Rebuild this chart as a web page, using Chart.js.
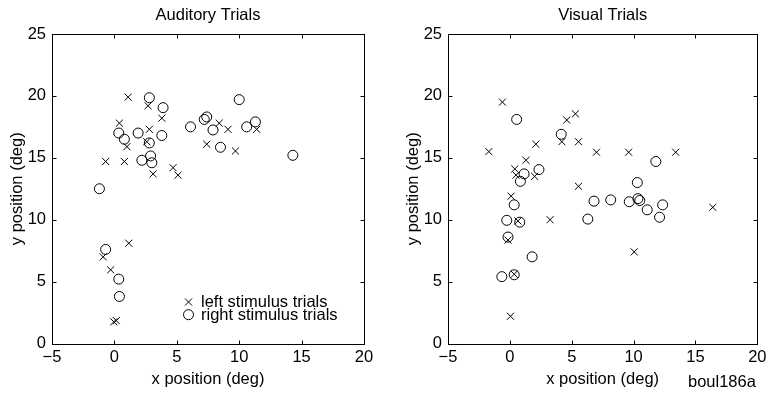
<!DOCTYPE html>
<html><head><meta charset="utf-8">
<script src="https://cdn.jsdelivr.net/npm/chart.js@4/dist/chart.umd.min.js"></script>
<style>
html,body{margin:0;padding:0;background:#fff;}
#wrap{position:relative;width:771px;height:393px;overflow:hidden;background:#fff}
canvas{position:absolute;top:0}
</style></head><body>
<div id="wrap">
<canvas id="c1" width="385" height="393" style="left:0"></canvas>
<canvas id="c2" width="375" height="393" style="left:396px"></canvas>
</div>
<script>
// ---- data ----
const xTickValues = [-5, 0, 5, 10, 15, 20];
const xTickLabels = ['\u22125', '0', '5', '10', '15', '20'];
const yTickValues = [0, 5, 10, 15, 20, 25];
const yTickLabels = ['0', '5', '10', '15', '20', '25'];

const audLeftX = [1.1, 2.7, 3.8, 0.4, 2.8, 2.6, 1.0, -0.7, 0.8, 3.1, 4.7, 5.1, 7.4, 8.4, 9.1, 9.7, 11.4, 1.15, -0.9, -0.3, -0.05, 0.15];
const audLeftY = [19.9, 19.2, 18.2, 17.8, 17.3, 16.3, 15.9, 14.7, 14.7, 13.7, 14.2, 13.6, 16.1, 17.8, 17.3, 15.55, 17.3, 8.1, 7.0, 5.95, 1.75, 1.85];
const audRightX = [2.8, 3.9, 0.35, 0.8, 1.9, 2.8, 3.8, 2.2, 2.9, 3.0, 6.1, 7.2, 7.4, 10.0, 7.9, 8.5, 10.6, 11.3, 14.3, -1.2, -0.7, 0.35, 0.4];
const audRightY = [19.85, 19.05, 17.0, 16.5, 17.0, 16.2, 16.8, 14.8, 15.15, 14.6, 17.5, 18.1, 18.3, 19.7, 17.25, 15.85, 17.5, 17.9, 15.2, 12.5, 7.6, 5.2, 3.8];

const visLeftX = [-0.6, 4.6, 5.3, 4.2, 5.55, 2.1, -1.7, 7.0, 1.3, 0.4, 0.5, 2.0, 5.55, 0.1, 9.6, 13.4, 0.65, -0.15, 0.35, 3.25, 0.05, 16.4, 10.05];
const visLeftY = [19.5, 18.05, 18.55, 16.3, 16.3, 16.1, 15.5, 15.45, 14.8, 14.1, 13.6, 13.5, 12.7, 11.9, 15.45, 15.45, 9.9, 8.35, 5.6, 10.0, 2.2, 11.0, 7.4];
const visRightX = [0.55, 4.15, 1.15, 2.35, 0.85, 11.8, 10.3, 0.35, -0.25, 0.8, -0.15, 1.8, -0.65, 0.35, 6.8, 6.3, 8.15, 9.65, 10.35, 10.5, 11.1, 12.35, 12.1];
const visRightY = [18.1, 16.9, 13.7, 14.05, 13.1, 14.7, 13.0, 11.2, 9.95, 9.8, 8.6, 7.0, 5.4, 5.55, 11.5, 10.05, 11.6, 11.45, 11.7, 11.55, 10.8, 11.2, 10.2];

const legendLabels = ['left stimulus trials', 'right stimulus trials'];
const titles = ['Auditory Trials', 'Visual Trials'];
const xTitle = 'x position (deg)';
const yTitle = 'y position (deg)';
const figTag = 'boul186a';

// ---- styling ----
const FONT = '"Liberation Sans", Arial, Helvetica, sans-serif';
const FS = 16.5;
Chart.defaults.font.family = FONT;
Chart.defaults.color = '#000';

function pts(xs, ys) { return xs.map((x, i) => ({ x: x, y: ys[i] })); }

const boxPlugin = {
  id: 'boxTicks',
  afterDraw(chart) {
    const { ctx, chartArea: a, scales: { x, y } } = chart;
    const L = Math.round(a.left) + 0.5, R = Math.round(a.right) + 0.5;
    const T = Math.round(a.top) + 0.5, B = Math.round(a.bottom) + 0.5;
    const len = 4;
    ctx.save();
    ctx.strokeStyle = '#000';
    ctx.lineWidth = 1;
    ctx.strokeRect(L, T, R - L, B - T);
    ctx.beginPath();
    xTickValues.forEach(v => {
      const px = Math.round(x.getPixelForValue(v)) + 0.5;
      ctx.moveTo(px, B); ctx.lineTo(px, B - len);
      ctx.moveTo(px, T); ctx.lineTo(px, T + len);
    });
    yTickValues.forEach(v => {
      const py = Math.round(y.getPixelForValue(v)) + 0.5;
      ctx.moveTo(L, py); ctx.lineTo(L + len, py);
      ctx.moveTo(R, py); ctx.lineTo(R - len, py);
    });
    ctx.stroke();
    ctx.restore();
  }
};

const legendPlugin = {
  id: 'inLegend',
  afterDraw(chart) {
    const { ctx, chartArea: a } = chart;
    const mx = a.right - 175.5, tx = a.right - 163;
    const y1 = a.bottom - 41.5, y2 = a.bottom - 28.8;
    ctx.save();
    ctx.strokeStyle = '#000';
    ctx.fillStyle = 'rgba(0,0,0,0)';
    Chart.helpers.drawPoint(ctx, { pointStyle: 'crossRot', radius: 5, borderWidth: 1, rotation: 0 }, mx, y1);
    Chart.helpers.drawPoint(ctx, { pointStyle: 'circle', radius: 5, borderWidth: 1, rotation: 0 }, mx, y2);
    ctx.fillStyle = '#000';
    ctx.font = FS + 'px ' + FONT;
    ctx.textAlign = 'left';
    ctx.textBaseline = 'middle';
    ctx.fillText(legendLabels[0], tx, y1);
    ctx.fillText(legendLabels[1], tx, y2 + 0.5);
    ctx.restore();
  }
};

const tagPlugin = {
  id: 'tag',
  afterDraw(chart) {
    const { ctx } = chart;
    ctx.save();
    ctx.fillStyle = '#000';
    ctx.font = FS + 'px ' + FONT;
    ctx.textAlign = 'left';
    ctx.textBaseline = 'alphabetic';
    ctx.fillText(figTag, 292, 387);
    ctx.restore();
  }
};

function makeChart(id, title, lx, ly, rx, ry, padRight, plugins) {
  return new Chart(document.getElementById(id), {
    type: 'scatter',
    data: {
      datasets: [
        { label: legendLabels[0], data: pts(lx, ly), pointStyle: 'crossRot', pointRadius: 5, pointBorderWidth: 1,
          borderColor: '#000', backgroundColor: 'rgba(0,0,0,0)', showLine: false },
        { label: legendLabels[1], data: pts(rx, ry), pointStyle: 'circle', pointRadius: 5, pointBorderWidth: 1,
          borderColor: '#000', backgroundColor: 'rgba(0,0,0,0)', showLine: false }
      ]
    },
    options: {
      responsive: false,
      animation: false,
      layout: { padding: { left: 0, right: padRight, top: 0, bottom: 0 } },
      plugins: {
        legend: { display: false },
        tooltip: { enabled: false },
        title: { display: true, fullSize: false, text: title, color: '#000', font: { size: FS, weight: 'normal' },
                 padding: { top: 5.7, bottom: 8.5 } }
      },
      scales: {
        x: {
          type: 'linear', min: -5, max: 20,
          grid: { display: false, drawTicks: false }, border: { display: false },
          afterBuildTicks: s => { s.ticks = xTickValues.map(v => ({ value: v })); },
          afterFit: s => { s.height = 49.5; },
          ticks: { color: '#000', font: { size: FS }, padding: 4.5, maxRotation: 0,
                   callback: (v) => xTickLabels[xTickValues.indexOf(v)] },
          title: { display: true, text: xTitle, color: '#000', font: { size: FS }, padding: { top: 0, bottom: 4 } }
        },
        y: {
          type: 'linear', min: 0, max: 25,
          grid: { display: false, drawTicks: false }, border: { display: false },
          afterBuildTicks: s => { s.ticks = yTickValues.map(v => ({ value: v })); },
          afterFit: s => { s.width = 52; },
          ticks: { color: '#000', font: { size: FS }, padding: 6,
                   callback: (v) => yTickLabels[yTickValues.indexOf(v)] },
          title: { display: true, text: yTitle, color: '#000', font: { size: FS }, padding: { top: 7.4, bottom: 0 } }
        }
      }
    },
    plugins: plugins
  });
}

makeChart('c1', titles[0], audLeftX, audLeftY, audRightX, audRightY, 21, [boxPlugin, legendPlugin]);
makeChart('c2', titles[1], visLeftX, visLeftY, visRightX, visRightY, 9, [boxPlugin, tagPlugin]);
</script>
</body></html>
